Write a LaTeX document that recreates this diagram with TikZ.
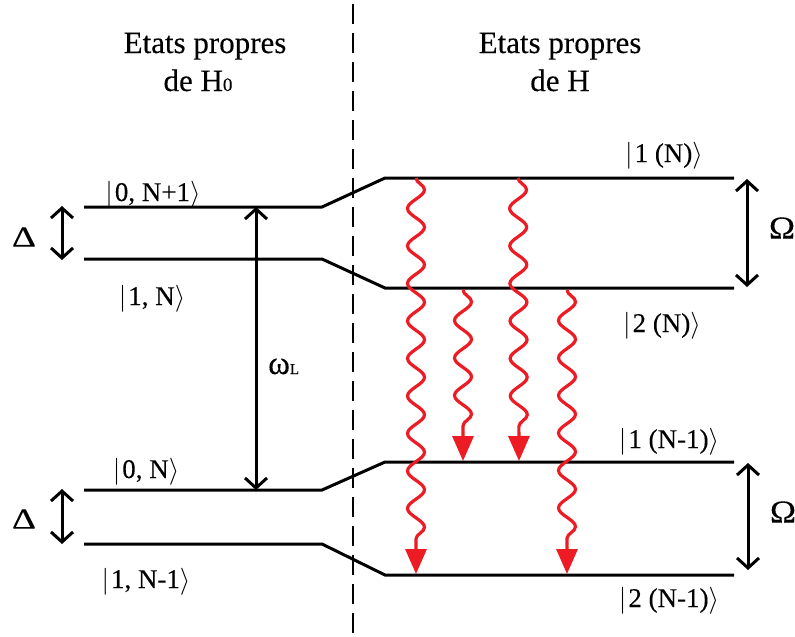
\documentclass[tikz,border=0pt]{standalone}
\usepackage{fix-cm}
\usepackage{graphicx}
\usepackage{fontspec}
\setmainfont{Liberation Serif}[FakeBold=0.2]
\usetikzlibrary{arrows.meta,decorations.pathmorphing}
\definecolor{wred}{RGB}{237,28,36}
\tikzset{
 lev/.style={line width=3pt},
 dbl/.style={line width=3pt, {Straight Barb[length=10pt,width=22pt]}-{Straight Barb[length=10pt,width=22pt]}},
 wavy/.style={wred, line width=3.2pt, -{Triangle[length=25pt,width=21pt]}, decorate,
   decoration={snake, amplitude=8.5pt, segment length=37.5pt, post length=24pt}},
 ket/.style={font=\fontsize{27}{32}\selectfont, anchor=base, inner sep=0pt},
 titlebox/.style={font=\fontsize{31}{36}\selectfont, anchor=base, inner sep=0pt},
 greek/.style={inner sep=0pt},
}
\begin{document}
\begin{tikzpicture}[x=1pt,y=-1pt]
\useasboundingbox (0,0) rectangle (795,637);
% dashed separator
\coordinate (sepT) at (353,4);
\coordinate (sepB) at (353,637);
\draw[line width=2pt, dash pattern=on 20pt off 9pt] (sepT) -- (sepB);
% titles
\node[titlebox] (t1) at (205,53) {Etats propres};
\node[titlebox] (t2) at (198,91) {de H{\fontsize{19}{20}\selectfont 0}};
\node[titlebox] (t3) at (560,53) {Etats propres};
\node[titlebox] (t4) at (560,91) {de H};
% levels
\coordinate (A1) at (84,207); \coordinate (A2) at (322,207); \coordinate (A3) at (385,178); \coordinate (A4) at (734,178);
\coordinate (B1) at (84,259); \coordinate (B2) at (322,259); \coordinate (B3) at (385,288); \coordinate (B4) at (734,288);
\coordinate (C1) at (84,490); \coordinate (C2) at (322,490); \coordinate (C3) at (385,462); \coordinate (C4) at (734,462);
\coordinate (D1) at (84,544); \coordinate (D2) at (322,544); \coordinate (D3) at (385,575); \coordinate (D4) at (734,575);
\draw[lev] (A1) -- (A2) -- (A3) -- (A4);
\draw[lev] (B1) -- (B2) -- (B3) -- (B4);
\draw[lev] (C1) -- (C2) -- (C3) -- (C4);
\draw[lev] (D1) -- (D2) -- (D3) -- (D4);
% double arrows
\coordinate (da1) at (62,206); \coordinate (db1) at (62,260);
\coordinate (da2) at (62,489); \coordinate (db2) at (62,544);
\coordinate (oa1) at (747,179); \coordinate (ob1) at (747,287);
\coordinate (oa2) at (748,463); \coordinate (ob2) at (748,570);
\coordinate (wa) at (256,207); \coordinate (wb) at (256,490);
\draw[dbl] (da1) -- (db1);
\draw[dbl] (da2) -- (db2);
\draw[dbl] (oa1) -- (ob1);
\draw[dbl] (oa2) -- (ob2);
\draw[dbl] (wa) -- (wb);
% wavy transitions
\coordinate (r1s) at (416,178); \coordinate (r1e) at (416,574);
\coordinate (r2s) at (463,290); \coordinate (r2e) at (463,461);
\coordinate (r3s) at (518,178); \coordinate (r3e) at (519,461);
\coordinate (r4s) at (567,290); \coordinate (r4e) at (567,574);
\draw[wavy] (r1s) -- (r1e);
\draw[wavy] (r2s) -- (r2e);
\draw[wavy] (r3s) -- (r3e);
\draw[wavy] (r4s) -- (r4e);
% greek labels
\node[greek, font=\fontsize{29}{30}\selectfont] (D1l) at (24,237) {\scalebox{1.3}[1]{Δ}};
\node[greek, font=\fontsize{29}{30}\selectfont] (D2l) at (24,519) {\scalebox{1.3}[1]{Δ}};
\node[greek, font=\fontsize{32}{33}\selectfont] (O1l) at (782,228) {\scalebox{1.1}[1]{Ω}};
\node[greek, font=\fontsize{32}{33}\selectfont] (O2l) at (783,512) {\scalebox{1.1}[1]{Ω}};
\node[anchor=base west, inner sep=0pt] (wl) at (268,374) {{\fontsize{33}{34}\selectfont ω}{\fontsize{15}{18}\selectfont L}};
% kets
\node[ket] (k1) at (153,201) {$\left|\hbox{\kern2pt0, N+1}\right\rangle$};
\node[ket] (k2) at (152,305) {$\left|\hbox{\kern2pt1, N}\right\rangle$};
\node[ket] (k3) at (146,478) {$\left|\hbox{\kern2pt0, N}\right\rangle$};
\node[ket] (k4) at (146,588) {$\left|\hbox{\kern2pt1, N-1}\right\rangle$};
\node[ket] (k5) at (664,162) {$\left|\hbox{\kern2pt1 (N)}\right\rangle$};
\node[ket] (k6) at (662,332) {$\left|\hbox{\kern2pt2 (N)}\right\rangle$};
\node[ket] (k7) at (669,448) {$\left|\hbox{\kern2pt1 (N-1)}\right\rangle$};
\node[ket] (k8) at (669,607) {$\left|\hbox{\kern2pt2 (N-1)}\right\rangle$};
\end{tikzpicture}
\end{document}
